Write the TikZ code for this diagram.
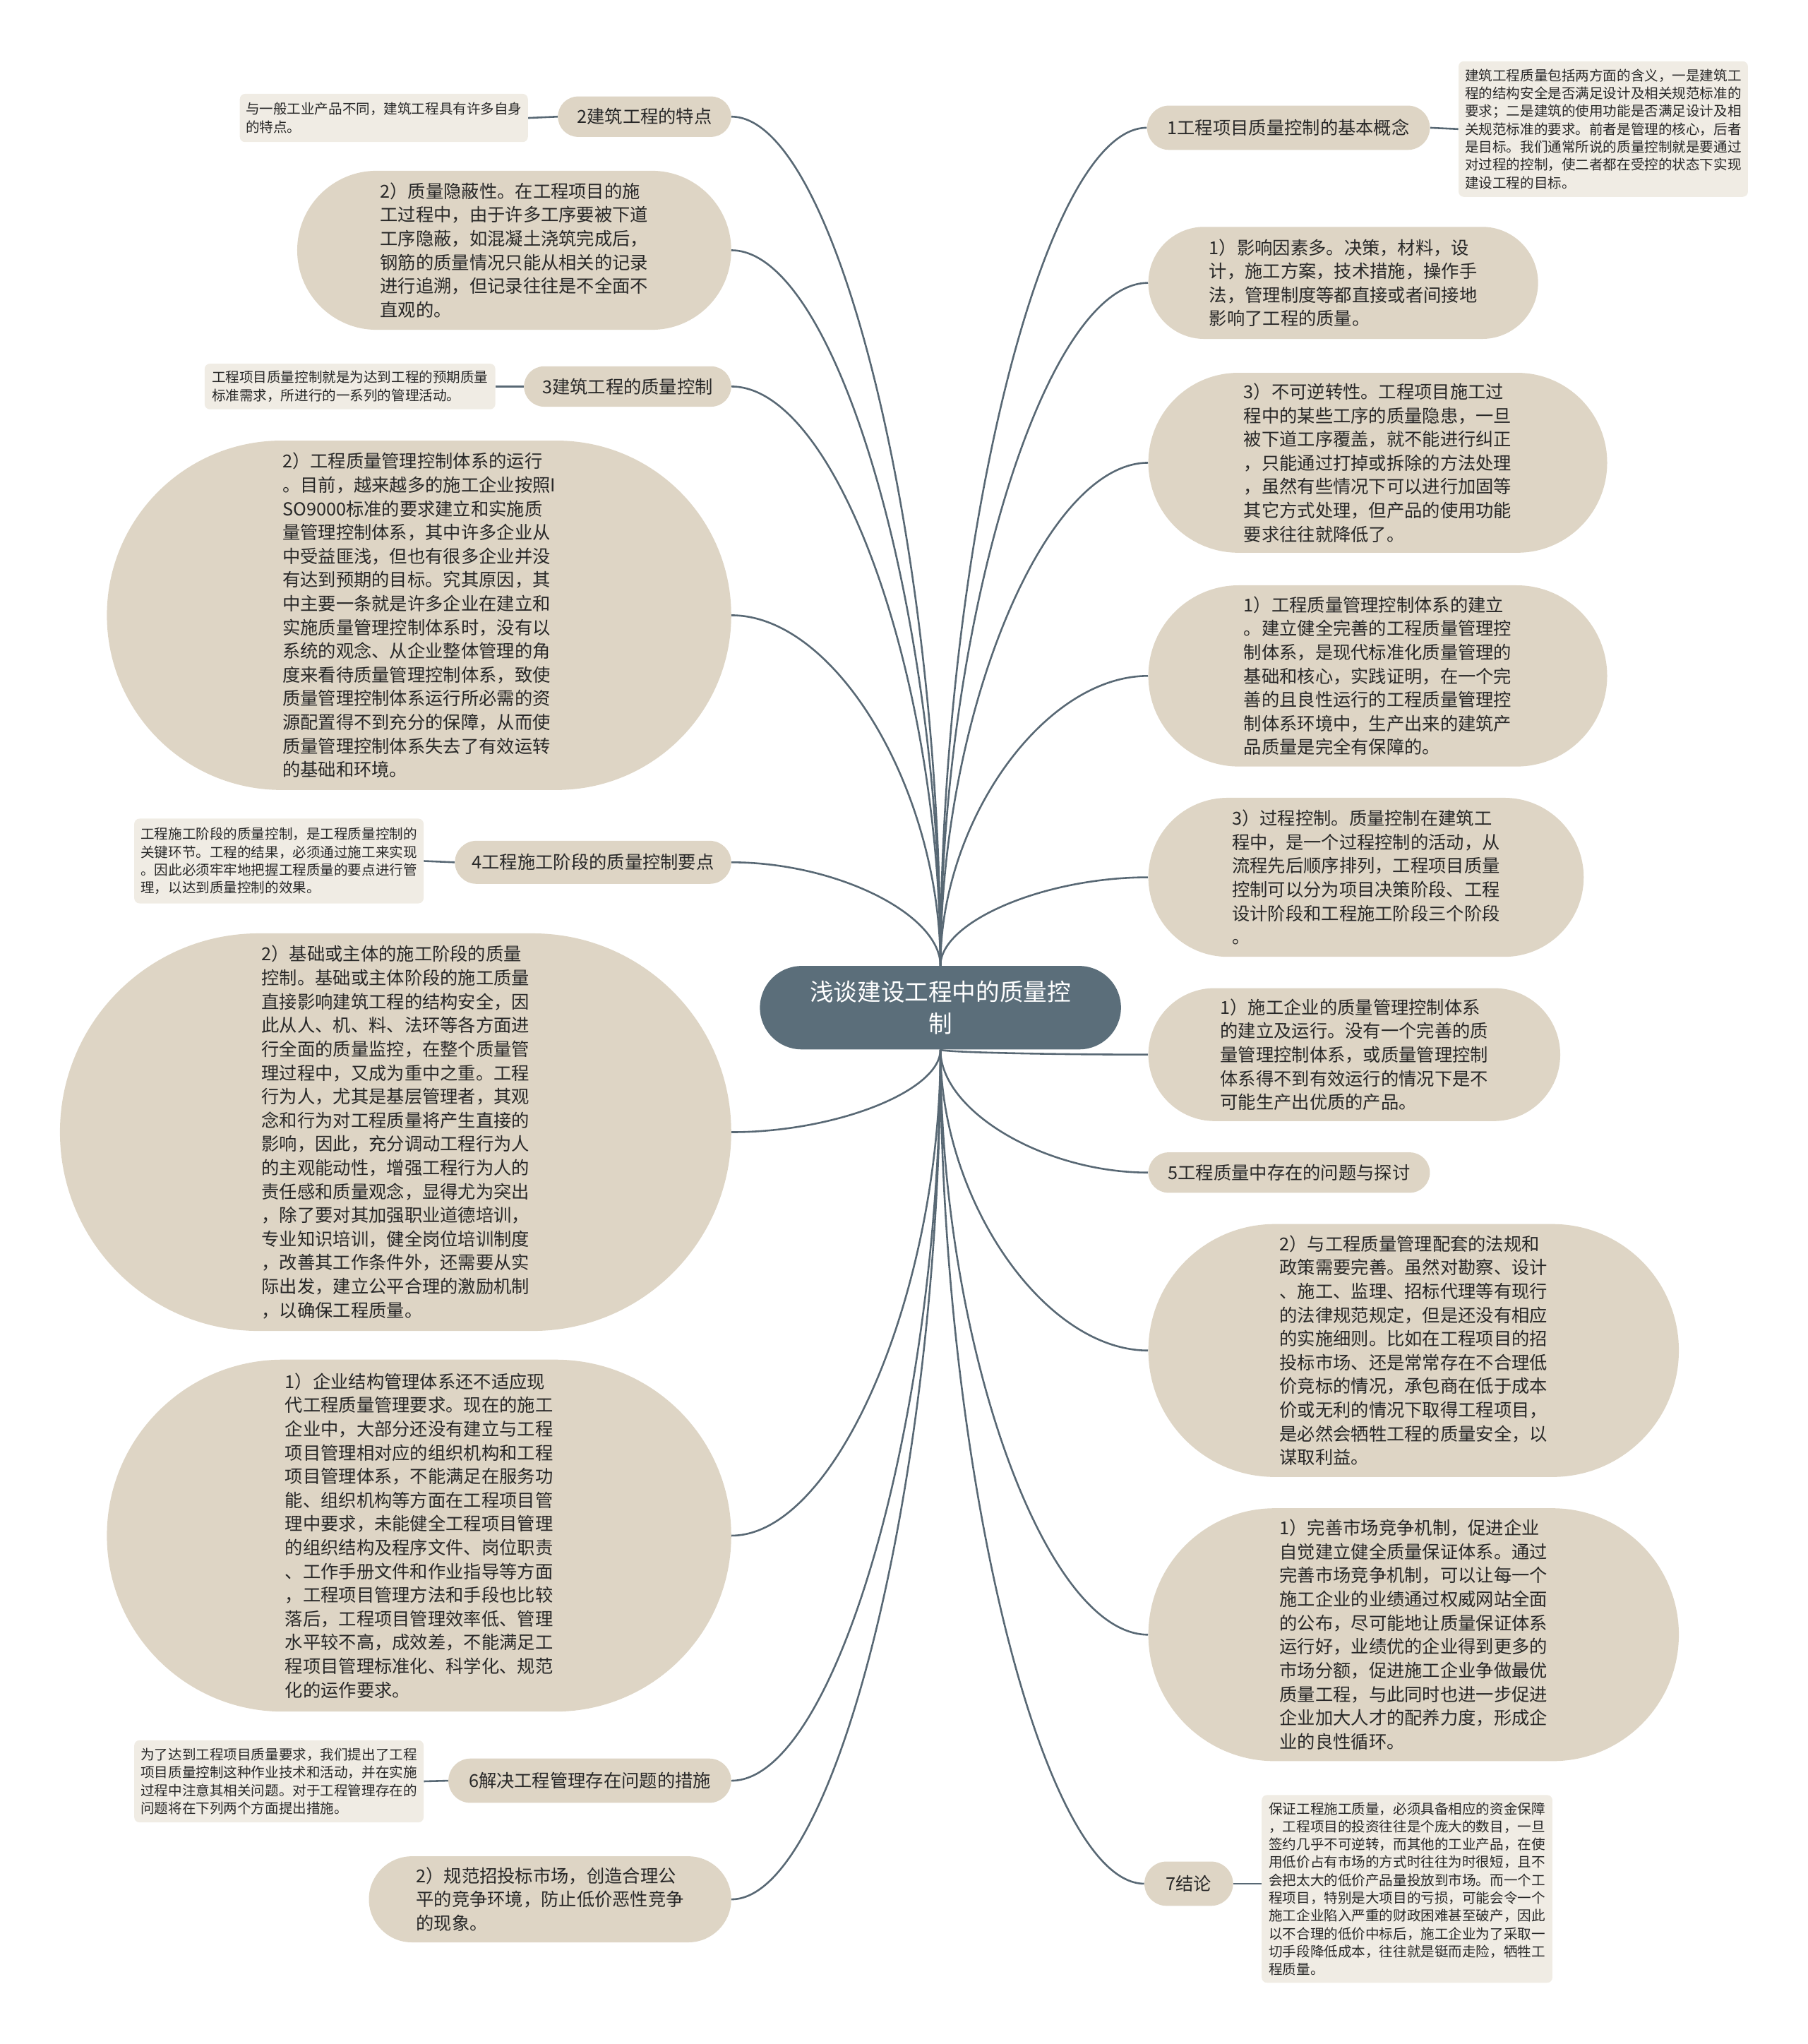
\documentclass[tikz,border=0pt]{standalone}
\usepackage{fontspec}
\setmainfont{Noto Sans CJK SC}
\usetikzlibrary{calc,backgrounds}

\definecolor{rootc}{RGB}{91,110,122}
\definecolor{bubc}{RGB}{222,213,197}
\definecolor{notec}{RGB}{240,236,228}
\definecolor{linec}{RGB}{88,104,116}
\definecolor{txtc}{RGB}{40,40,40}

\newcommand\bodyfont{\fontsize{13.7}{18.2}\selectfont}
\newcommand\notefont{\fontsize{10.6}{13.7}\selectfont}
\newcommand\rootfont{\fontsize{18.2}{24}\selectfont}

\tikzset{
  bubble/.style 2 args={fill=bubc, text=txtc, font=\bodyfont, align=left, inner sep=0pt,
    minimum width=#1, minimum height=#2, rounded corners=#2/2},
  note/.style 2 args={fill=notec, text=txtc, font=\notefont, align=left, inner sep=0pt,
    minimum width=#1, minimum height=#2, rounded corners=4pt},
  rootbox/.style={fill=rootc, text=white, font=\rootfont, align=center, inner sep=0pt,
    minimum width=277pt, minimum height=64pt, rounded corners=32pt},
  branch/.style={draw=linec, line width=1.4pt,
    to path={.. controls ($(\tikztostart)!0.5!(\tikztostart|-\tikztotarget)$) and ($(\tikztotarget)!0.5!(\tikztostart|-\tikztotarget)$) .. (\tikztotarget)}},
  twig/.style={draw=linec, line width=1.4pt},
}

\begin{document}
\begin{tikzpicture}[x=1pt,y=1pt,yscale=-1]
\useasboundingbox (0,0) rectangle (1387,1568);

%Root
\node[rootbox] (root) at (721.5,773) {浅谈建设工程中的质量控\\制};

%Right side
\node[bubble={217pt}{34pt}] (r1) at (988.5,98) {1工程项目质量控制的基本概念};
\node[note={222pt}{104pt}] (r1n) at (1230,99) {建筑工程质量包括两方面的含义，一是建筑工\\程的结构安全是否满足设计及相关规范标准的\\要求；二是建筑的使用功能是否满足设计及相\\关规范标准的要求。前者是管理的核心，后者\\是目标。我们通常所说的质量控制就是要通过\\对过程的控制，使二者都在受控的状态下实现\\建设工程的目标。};
\node[bubble={299pt}{86pt}] (r2) at (1030.5,217) {1）影响因素多。决策，材料，设\\计，施工方案，技术措施，操作手\\法，管理制度等都直接或者间接地\\影响了工程的质量。};
\node[bubble={352pt}{138pt}] (r3) at (1057,355) {3）不可逆转性。工程项目施工过\\程中的某些工序的质量隐患，一旦\\被下道工序覆盖，就不能进行纠正\\，只能通过打掉或拆除的方法处理\\，虽然有些情况下可以进行加固等\\其它方式处理，但产品的使用功能\\要求往往就降低了。};
\node[bubble={352pt}{139pt}] (r4) at (1057,518.5) {1）工程质量管理控制体系的建立\\。建立健全完善的工程质量管理控\\制体系，是现代标准化质量管理的\\基础和核心，实践证明，在一个完\\善的且良性运行的工程质量管理控\\制体系环境中，生产出来的建筑产\\品质量是完全有保障的。};
\node[bubble={334pt}{122pt}] (r5) at (1048,673) {3）过程控制。质量控制在建筑工\\程中，是一个过程控制的活动，从\\流程先后顺序排列，工程项目质量\\控制可以分为项目决策阶段、工程\\设计阶段和工程施工阶段三个阶段\\。};
\node[bubble={316pt}{102pt}] (r6) at (1039,809) {1）施工企业的质量管理控制体系\\的建立及运行。没有一个完善的质\\量管理控制体系，或质量管理控制\\体系得不到有效运行的情况下是不\\可能生产出优质的产品。};
\node[bubble={216pt}{31pt}] (r7) at (989,899.5) {5工程质量中存在的问题与探讨};
\node[bubble={407pt}{194pt}] (r8) at (1084.5,1036) {2）与工程质量管理配套的法规和\\政策需要完善。虽然对勘察、设计\\、施工、监理、招标代理等有现行\\的法律规范规定，但是还没有相应\\的实施细则。比如在工程项目的招\\投标市场、还是常常存在不合理低\\价竞标的情况，承包商在低于成本\\价或无利的情况下取得工程项目，\\是必然会牺牲工程的质量安全，以\\谋取利益。};
\node[bubble={407pt}{194pt}] (r9) at (1084.5,1254) {1）完善市场竞争机制，促进企业\\自觉建立健全质量保证体系。通过\\完善市场竞争机制，可以让每一个\\施工企业的业绩通过权威网站全面\\的公布，尽可能地让质量保证体系\\运行好，业绩优的企业得到更多的\\市场分额，促进施工企业争做最优\\质量工程，与此同时也进一步促进\\企业加大人才的配养力度，形成企\\业的良性循环。};
\node[bubble={68pt}{34pt}] (r10) at (912,1445) {7结论};
\node[note={223pt}{144pt}] (r10n) at (1079.5,1449) {保证工程施工质量，必须具备相应的资金保障\\，工程项目的投资往往是个庞大的数目，一旦\\签约几乎不可逆转，而其他的工业产品，在使\\用低价占有市场的方式时往往为时很短，且不\\会把太大的低价产品量投放到市场。而一个工\\程项目，特别是大项目的亏损，可能会令一个\\施工企业陷入严重的财政困难甚至破产，因此\\以不合理的低价中标后，施工企业为了采取一\\切手段降低成本，往往就是铤而走险，牺牲工\\程质量。};

%Left side
\node[bubble={133pt}{31pt}] (l1) at (494.5,89.5) {2建筑工程的特点};
\node[note={221pt}{37pt}] (l1n) at (294.5,90.5) {与一般工业产品不同，建筑工程具有许多自身\\的特点。};
\node[bubble={333pt}{122pt}] (l2) at (394.5,192) {2）质量隐蔽性。在工程项目的施\\工过程中，由于许多工序要被下道\\工序隐蔽，如混凝土浇筑完成后，\\钢筋的质量情况只能从相关的记录\\进行追溯，但记录往往是不全面不\\直观的。};
\node[bubble={159pt}{31pt}] (l3) at (481.5,296.5) {3建筑工程的质量控制};
\node[note={223pt}{35pt}] (l3n) at (268.5,296.5) {工程项目质量控制就是为达到工程的预期质量\\标准需求，所进行的一系列的管理活动。};
\node[bubble={479pt}{268pt}] (l4) at (321.5,472) {2）工程质量管理控制体系的运行\\。目前，越来越多的施工企业按照I\\SO9000标准的要求建立和实施质\\量管理控制体系，其中许多企业从\\中受益匪浅，但也有很多企业并没\\有达到预期的目标。究其原因，其\\中主要一条就是许多企业在建立和\\实施质量管理控制体系时，没有以\\系统的观念、从企业整体管理的角\\度来看待质量管理控制体系，致使\\质量管理控制体系运行所必需的资\\源配置得不到充分的保障，从而使\\质量管理控制体系失去了有效运转\\的基础和环境。};
\node[bubble={212pt}{33pt}] (l5) at (455,661.5) {4工程施工阶段的质量控制要点};
\node[note={222pt}{65pt}] (l5n) at (214,660.5) {工程施工阶段的质量控制，是工程质量控制的\\关键环节。工程的结果，必须通过施工来实现\\。因此必须牢牢地把握工程质量的要点进行管\\理，以达到质量控制的效果。};
\node[bubble={515pt}{305pt}] (l6) at (303.5,868.5) {2）基础或主体的施工阶段的质量\\控制。基础或主体阶段的施工质量\\直接影响建筑工程的结构安全，因\\此从人、机、料、法环等各方面进\\行全面的质量监控，在整个质量管\\理过程中，又成为重中之重。工程\\行为人，尤其是基层管理者，其观\\念和行为对工程质量将产生直接的\\影响，因此，充分调动工程行为人\\的主观能动性，增强工程行为人的\\责任感和质量观念，显得尤为突出\\，除了要对其加强职业道德培训，\\专业知识培训，健全岗位培训制度\\，改善其工作条件外，还需要从实\\际出发，建立公平合理的激励机制\\，以确保工程质量。};
\node[bubble={479pt}{270pt}] (l7) at (321.5,1178) {1）企业结构管理体系还不适应现\\代工程质量管理要求。现在的施工\\企业中，大部分还没有建立与工程\\项目管理相对应的组织机构和工程\\项目管理体系，不能满足在服务功\\能、组织机构等方面在工程项目管\\理中要求，未能健全工程项目管理\\的组织结构及程序文件、岗位职责\\、工作手册文件和作业指导等方面\\，工程项目管理方法和手段也比较\\落后，工程项目管理效率低、管理\\水平较不高，成效差，不能满足工\\程项目管理标准化、科学化、规范\\化的运作要求。};
\node[bubble={217pt}{34pt}] (l8) at (452.5,1366) {6解决工程管理存在问题的措施};
\node[note={222pt}{63pt}] (l8n) at (214,1366.5) {为了达到工程项目质量要求，我们提出了工程\\项目质量控制这种作业技术和活动，并在实施\\过程中注意其相关问题。对于工程管理存在的\\问题将在下列两个方面提出措施。};
\node[bubble={278pt}{66pt}] (l9) at (422,1457) {2）规范招投标市场，创造合理公\\平的竞争环境，防止低价恶性竞争\\的现象。};

%Connectors
\begin{pgfonlayer}{background}
\foreach \n in {r1,r2,r3,r4,r5} \draw[branch] (root.north) to (\n.west);
\foreach \n in {r6,r7,r8,r9,r10} \draw[branch] (root.south) to (\n.west);
\foreach \n in {l1,l2,l3,l4,l5} \draw[branch] (root.north) to (\n.east);
\foreach \n in {l6,l7,l8,l9} \draw[branch] (root.south) to (\n.east);
\draw[twig] (r1.east) -- (r1n.west);
\draw[twig] (r10.east) -- (r10n.west|-r10.east);
\draw[twig] (l1.west) -- (l1n.east);
\draw[twig] (l3.west) -- (l3n.east);
\draw[twig] (l5.west) -- (l5n.east);
\draw[twig] (l8.west) -- (l8n.east);
\end{pgfonlayer}

\end{tikzpicture}
\end{document}
